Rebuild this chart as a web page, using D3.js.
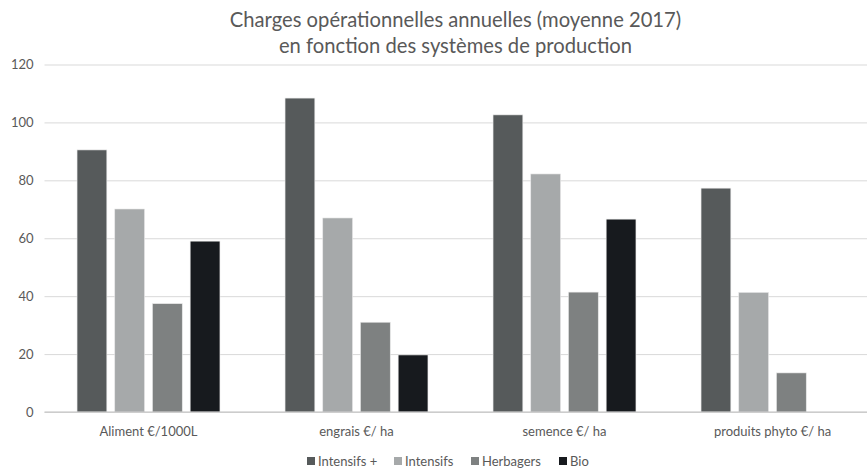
<!DOCTYPE html>
<html>
<head>
<meta charset="utf-8">
<script src="https://cdn.jsdelivr.net/npm/d3@7"></script>
<style>
  html, body { margin: 0; padding: 0; background: #ffffff; }
  svg { display: block; }
</style>
</head>
<body>
<svg id="chart" width="867" height="468"></svg>
<script>
// Chart data
const categories = ["Aliment €/1000L", "engrais €/ ha", "semence €/ ha", "produits phyto €/ ha"];
const seriesNames = ["Intensifs +", "Intensifs", "Herbagers", "Bio"];
const intensifsPlus = [90.5, 108.4, 102.6, 77.3];
const intensifs = [70.1, 67.0, 82.2, 41.3];
const herbagers = [37.4, 31.0, 41.4, 13.5];
const bio = [59.0, 19.7, 66.6, null];
const yTicks = [0, 20, 40, 60, 80, 100, 120];
const titleLines = ["Charges opérationnelles annuelles (moyenne 2017)", "en fonction des systèmes de production"];

const seriesValues = [intensifsPlus, intensifs, herbagers, bio];
const colors = ["#565a5b", "#a6a9aa", "#7e8181", "#171a1e"];
const textColor = "#595959";
const fontFamily = "Lato, 'Open Sans', sans-serif";

const W = 867, H = 468;
const svg = d3.select("#chart");

const x0 = d3.scaleBand().domain(categories).range([44.5, 876.5]).paddingInner(0).paddingOuter(0);
const x1 = d3.scaleBand().domain(seriesNames).range([0, x0.bandwidth()])
  .paddingInner(0.21).paddingOuter(0.863);
const y = d3.scaleLinear().domain([0, 120]).range([412, 64.5]);
const color = d3.scaleOrdinal().domain(seriesNames).range(colors);

// Title
svg.append("g").selectAll("text").data(titleLines).join("text")
  .attr("x", 455.5).attr("y", (d, i) => 27 + i * 25.5)
  .attr("text-anchor", "middle")
  .attr("font-family", fontFamily).attr("font-size", 20.2)
  .attr("fill", textColor)
  .text(d => d);

// Gridlines and y labels
const yAxis = d3.axisLeft(y).tickValues(yTicks).tickSize(-(W - 44.5)).tickPadding(11);
const gy = svg.append("g").attr("transform", "translate(44.5,0)").call(yAxis);
gy.select(".domain").remove();
gy.selectAll(".tick line").attr("stroke", "#d9d9d9").attr("stroke-width", 1);
gy.selectAll(".tick text").attr("fill", textColor).attr("font-family", fontFamily).attr("font-size", 13);

// Bars
const rows = categories.map((c, i) => ({ cat: c, vals: seriesNames.map((s, j) => ({ s, v: seriesValues[j][i] })) }));
const groups = svg.append("g").selectAll("g").data(rows).join("g")
  .attr("transform", d => `translate(${x0(d.cat)},0)`);
groups.selectAll("rect").data(d => d.vals.filter(e => e.v != null)).join("rect")
  .attr("x", d => x1(d.s))
  .attr("width", x1.bandwidth())
  .attr("y", d => y(d.v))
  .attr("height", d => y(0) - y(d.v))
  .attr("fill", d => color(d.s))
  .attr("stroke", "#e8e8e8").attr("stroke-width", 0.6);

// Category axis
const xAxis = d3.axisBottom(x0).tickSize(0).tickPadding(15);
const gx = svg.append("g").attr("transform", "translate(0,412)").call(xAxis);
gx.select(".domain").remove();
gx.selectAll(".tick text").attr("fill", textColor).attr("font-family", fontFamily).attr("font-size", 13);
svg.append("line").attr("x1", 44.5).attr("x2", W).attr("y1", y(0)).attr("y2", y(0))
  .attr("stroke", "#bfbfbf").attr("stroke-width", 1.2);

// Legend
const legendX = [307, 394, 471, 559];
const legend = svg.append("g").selectAll("g").data(seriesNames).join("g")
  .attr("transform", (d, i) => `translate(${legendX[i]},457)`);
legend.append("rect").attr("width", 8).attr("height", 8).attr("fill", d => color(d));
legend.append("text").attr("x", 11).attr("y", 9)
  .attr("font-family", fontFamily).attr("font-size", 13).attr("fill", textColor)
  .text(d => d);
</script>
</body>
</html>
